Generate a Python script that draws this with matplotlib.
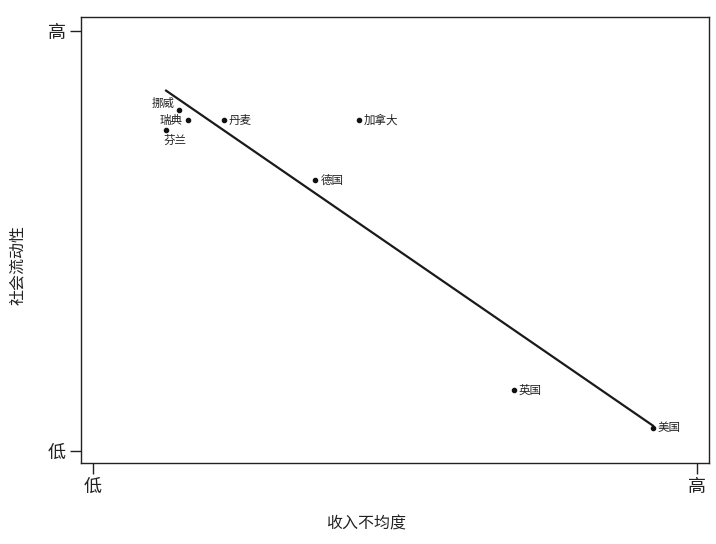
import numpy as np
import matplotlib
matplotlib.use("Agg")
import matplotlib.pyplot as plt

plt.rcParams['font.family'] = ['Noto Sans CJK SC', 'DejaVu Sans']

# Countries: income inequality (x) vs social mobility (y), relative scale 0 (低) .. 1 (高)
countries = ["挪威", "瑞典", "芬兰", "丹麦", "加拿大", "德国", "英国", "美国"]
inequality = [0.142, 0.157, 0.121, 0.217, 0.440, 0.368, 0.697, 0.927]
mobility = [0.812, 0.788, 0.764, 0.788, 0.788, 0.645, 0.145, 0.055]

tick_labels = ["低", "高"]

# label placement: (dx, dy) in points, horizontal alignment
label_pos = {
    "挪威": ((-3, 5), "right"),
    "瑞典": ((-3.6, 0), "right"),
    "芬兰": ((-1.5, -7.5), "left"),
}
default_pos = ((3.6, 0), "left")

fig = plt.figure(figsize=(7.16, 5.44), dpi=100)
ax = fig.add_axes([81 / 716, 1 - 463 / 544, (709 - 81) / 716, (463 - 17) / 544])

x = np.array(inequality)
y = np.array(mobility)

# least-squares trend line across the range of the data
slope, intercept = np.polyfit(x, y, 1)
xs = np.array([x.min(), x.max()])
ax.plot(xs, slope * xs + intercept, color="#1a1a1a", lw=1.6, zorder=2)

ax.scatter(x, y, s=9, color="#111111", zorder=3)

for name, xi, yi in zip(countries, x, y):
    (dx, dy), ha = label_pos.get(name, default_pos)
    ax.annotate(name, (xi, yi), xytext=(dx, dy), textcoords="offset points",
                ha=ha, va="center", fontsize=8.3, color="#222222")

ax.set_xlim(-12 / 604, 1 + 12 / 604)
ax.set_ylim(-12 / 420, 1 + 14 / 420)
ax.set_xticks([0, 1])
ax.set_xticklabels(tick_labels, fontsize=13)
ax.set_yticks([0, 1])
ax.set_yticklabels(tick_labels, fontsize=13)
ax.tick_params(direction="out", length=8, width=1, pad=3, colors="#222222")

for sp in ax.spines.values():
    sp.set_linewidth(1)
    sp.set_color("#222222")

fig.text(366 / 716, 1 - 524 / 544, "收入不均度", ha="center", va="center",
         fontsize=11.5, color="#222222")
fig.text(18 / 716, 1 - 265 / 544, "社会流动性", ha="center", va="center",
         rotation=90, fontsize=11.5, color="#222222")

fig.savefig("out.png", dpi=100, facecolor="white")
